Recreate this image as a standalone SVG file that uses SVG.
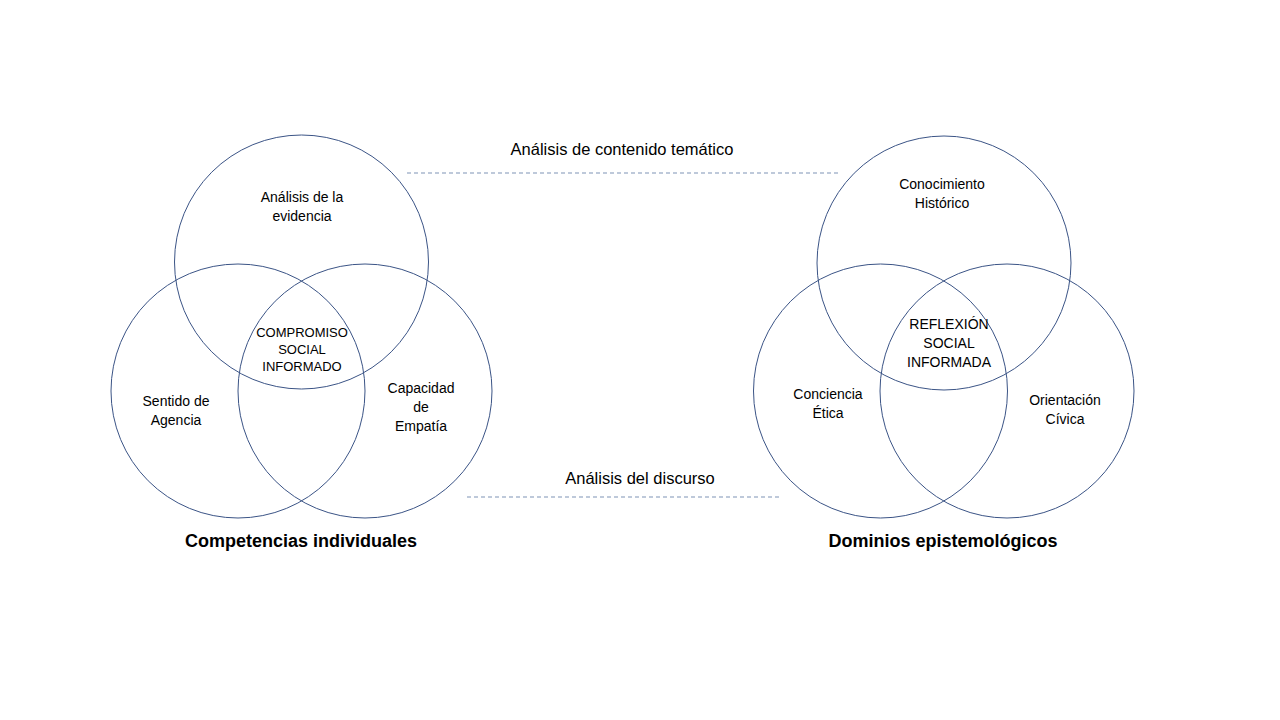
<svg xmlns="http://www.w3.org/2000/svg" width="1280" height="720" viewBox="0 0 1280 720">
<style>
.c{fill:none;stroke:#3B5486;stroke-width:1}
.d{fill:none;stroke:#7F93B5;stroke-width:1.2;stroke-dasharray:4 3}
text{font-family:"Liberation Sans",Arial,sans-serif;fill:#000;text-anchor:middle}
.t{font-size:14px}
.u{font-size:13px}
.h{font-size:16.5px}
.b{font-size:18px;font-weight:bold}
</style>
<rect width="1280" height="720" fill="#fff"/>
<g id="connectors">
<line class="d" x1="407" y1="173" x2="840" y2="173"/>
<line class="d" x1="467" y1="497" x2="782" y2="497"/>
<text class="h" x="622" y="155">Análisis de contenido temático</text>
<text class="h" x="640" y="484">Análisis del discurso</text>
</g>
<g id="left-venn">
<g id="analisis-evidencia"><circle class="c" cx="301.5" cy="262" r="127"/>
<text class="t" x="302" y="202">Análisis de la</text><text class="t" x="302" y="221">evidencia</text></g>
<g id="sentido-agencia"><circle class="c" cx="238" cy="391" r="127"/>
<text class="t" x="176" y="406">Sentido de</text><text class="t" x="176" y="425">Agencia</text></g>
<g id="capacidad-empatia"><circle class="c" cx="365" cy="391" r="127"/>
<text class="t" x="421" y="393">Capacidad</text><text class="t" x="421" y="412">de</text><text class="t" x="421" y="431">Empatía</text></g>
<g id="compromiso-social"><text class="u" x="302" y="337">COMPROMISO</text><text class="u" x="302" y="354">SOCIAL</text><text class="u" x="302" y="371">INFORMADO</text></g>
<text id="competencias" class="b" x="301" y="547">Competencias individuales</text>
</g>
<g id="right-venn">
<g id="conocimiento-historico"><circle class="c" cx="944" cy="263" r="127"/>
<text class="t" x="942" y="189">Conocimiento</text><text class="t" x="942" y="208">Histórico</text></g>
<g id="conciencia-etica"><circle class="c" cx="880.5" cy="391" r="127"/>
<text class="t" x="828" y="399">Conciencia</text><text class="t" x="828" y="418">Ética</text></g>
<g id="orientacion-civica"><circle class="c" cx="1007" cy="391" r="127"/>
<text class="t" x="1065" y="405">Orientación</text><text class="t" x="1065" y="424">Cívica</text></g>
<g id="reflexion-social"><text class="t" x="949" y="329">REFLEXIÓN</text><text class="t" x="949" y="348">SOCIAL</text><text class="t" x="949" y="367">INFORMADA</text></g>
<text id="dominios" class="b" x="943" y="547">Dominios epistemológicos</text>
</g>
</svg>
